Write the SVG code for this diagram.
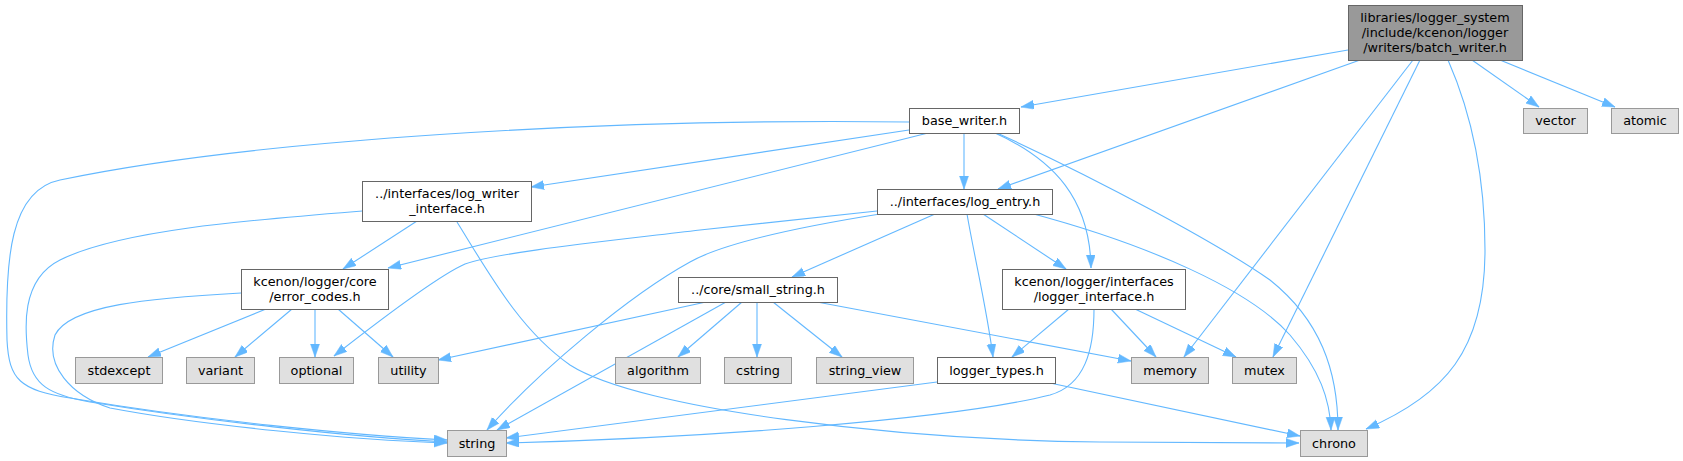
<svg xmlns="http://www.w3.org/2000/svg" width="1683" height="461" viewBox="0 0 1683 461">
<style>
text{font-family:"DejaVu Sans","Liberation Sans",sans-serif;font-size:12.8px;text-anchor:middle;fill:#000}
.n rect{fill:#fff;stroke:#666;stroke-width:1}
.g rect{fill:#e0e0e0;stroke:#999;stroke-width:1}
.r rect{fill:#999;stroke:#666;stroke-width:1}
.e path{fill:none;stroke:#63b8ff;stroke-width:1.1;marker-end:url(#a)}
</style>
<defs>
<marker id="a" markerUnits="userSpaceOnUse" markerWidth="14" markerHeight="10" refX="13" refY="4.5" orient="auto"><path d="M0,0 L13,4.5 L0,9 z" fill="#63b8ff" stroke="#63b8ff" stroke-width="0.5"/></marker>
</defs>
<rect width="1683" height="461" fill="#fff"/>
<g id="edges" class="e">
<path d="M1348,50 L1021,107"/>
<path d="M1360,60 L998,189"/>
<path d="M1413,60 L1184,357"/>
<path d="M1420,60 L1273,357"/>
<path d="M1448,60 C1470,110 1485,170 1485,250 C1485,350 1445,395 1366,429"/>
<path d="M1472,60 L1539,107"/>
<path d="M1500,60 L1615,107"/>
<path d="M909,122 C600,118 250,140 60,180 C10,190 5,260 7,340 C9,380 20,390 70,398 C200,420 350,435 447,440"/>
<path d="M909,130 L531,187"/>
<path d="M928,133 L388,268"/>
<path d="M964,133 L964,189"/>
<path d="M995,133 C1055,160 1090,200 1091,268"/>
<path d="M997,133 C1100,180 1220,245 1270,280 C1320,320 1338,370 1338,430"/>
<path d="M417,221 L343,269"/>
<path d="M362,211 C250,220 120,230 60,260 C20,280 25,330 28,355 C32,385 50,395 90,402 C200,420 350,437 447,442"/>
<path d="M457,222 C490,275 520,330 570,365 C640,410 900,440 1100,442 L1299,443"/>
<path d="M241,293 C150,298 70,305 55,335 C45,365 70,395 110,408 C200,425 350,440 447,443"/>
<path d="M266,309 L148,357"/>
<path d="M292,309 L235,357"/>
<path d="M315,309 L315,357"/>
<path d="M338,309 L393,357"/>
<path d="M935,214 L792,277"/>
<path d="M983,214 L1066,269"/>
<path d="M967,214 C975,260 987,310 993,357"/>
<path d="M877,211 L700,230 C600,242 500,252 465,264 C440,275 380,320 334,356"/>
<path d="M880,214 C780,230 720,245 690,262 C630,295 540,370 487,430"/>
<path d="M1030,213 C1150,245 1250,290 1290,335 C1320,370 1330,400 1331,430"/>
<path d="M726,302 L497,430"/>
<path d="M706,302 L438,360"/>
<path d="M742,302 L678,357"/>
<path d="M757,302 L757,357"/>
<path d="M773,302 L842,357"/>
<path d="M817,302 L1131,361"/>
<path d="M1069,309 L1012,357"/>
<path d="M1111,309 L1156,357"/>
<path d="M1135,309 L1236,357"/>
<path d="M1094,309 C1094,350 1085,385 1050,395 C950,420 700,438 506,443"/>
<path d="M937,382 L506,438"/>
<path d="M1050,383 L1300,436"/>
</g>
<g id="root" class="r"><rect x="1348.5" y="5.5" width="174" height="55"/><text x="1435" y="21.5">libraries/logger_system</text><text x="1435" y="36.5">/include/kcenon/logger</text><text x="1435" y="51.5">/writers/batch_writer.h</text></g>
<g id="base_writer" class="n"><rect x="909.5" y="108.5" width="110" height="25"/><text x="964.5" y="125">base_writer.h</text></g>
<g id="vector" class="g"><rect x="1523.5" y="108.5" width="64" height="25"/><text x="1555.5" y="125">vector</text></g>
<g id="atomic" class="g"><rect x="1611.5" y="108.5" width="67" height="25"/><text x="1645" y="125">atomic</text></g>
<g id="log_writer_interface" class="n"><rect x="362.5" y="181.5" width="169" height="40"/><text x="447" y="197.5">../interfaces/log_writer</text><text x="447" y="212.5">_interface.h</text></g>
<g id="log_entry" class="n"><rect x="877.5" y="189.5" width="175" height="25"/><text x="965" y="206">../interfaces/log_entry.h</text></g>
<g id="error_codes" class="n"><rect x="241.5" y="269.5" width="147" height="40"/><text x="315" y="285.5">kcenon/logger/core</text><text x="315" y="300.5">/error_codes.h</text></g>
<g id="small_string" class="n"><rect x="678.5" y="277.5" width="159" height="25"/><text x="758" y="294">../core/small_string.h</text></g>
<g id="logger_interface" class="n"><rect x="1002.5" y="269.5" width="183" height="40"/><text x="1094" y="285.5">kcenon/logger/interfaces</text><text x="1094" y="300.5">/logger_interface.h</text></g>
<g id="stdexcept" class="g"><rect x="75.5" y="357.5" width="87" height="26"/><text x="119" y="374.5">stdexcept</text></g>
<g id="variant" class="g"><rect x="186.5" y="357.5" width="68" height="26"/><text x="220.5" y="374.5">variant</text></g>
<g id="optional" class="g"><rect x="279.5" y="357.5" width="74" height="26"/><text x="316.5" y="374.5">optional</text></g>
<g id="utility" class="g"><rect x="378.5" y="357.5" width="60" height="26"/><text x="408.5" y="374.5">utility</text></g>
<g id="algorithm" class="g"><rect x="615.5" y="357.5" width="85" height="26"/><text x="658" y="374.5">algorithm</text></g>
<g id="cstring" class="g"><rect x="724.5" y="357.5" width="67" height="26"/><text x="758" y="374.5">cstring</text></g>
<g id="string_view" class="g"><rect x="816.5" y="357.5" width="97" height="26"/><text x="865" y="374.5">string_view</text></g>
<g id="logger_types" class="n"><rect x="937.5" y="357.5" width="118" height="26"/><text x="996.5" y="374.5">logger_types.h</text></g>
<g id="memory" class="g"><rect x="1131.5" y="357.5" width="77" height="26"/><text x="1170" y="374.5">memory</text></g>
<g id="mutex" class="g"><rect x="1232.5" y="357.5" width="64" height="26"/><text x="1264.5" y="374.5">mutex</text></g>
<g id="string" class="g"><rect x="447.5" y="430.5" width="59" height="26"/><text x="477" y="447.5">string</text></g>
<g id="chrono" class="g"><rect x="1300.5" y="430.5" width="67" height="26"/><text x="1334" y="447.5">chrono</text></g>
</svg>
